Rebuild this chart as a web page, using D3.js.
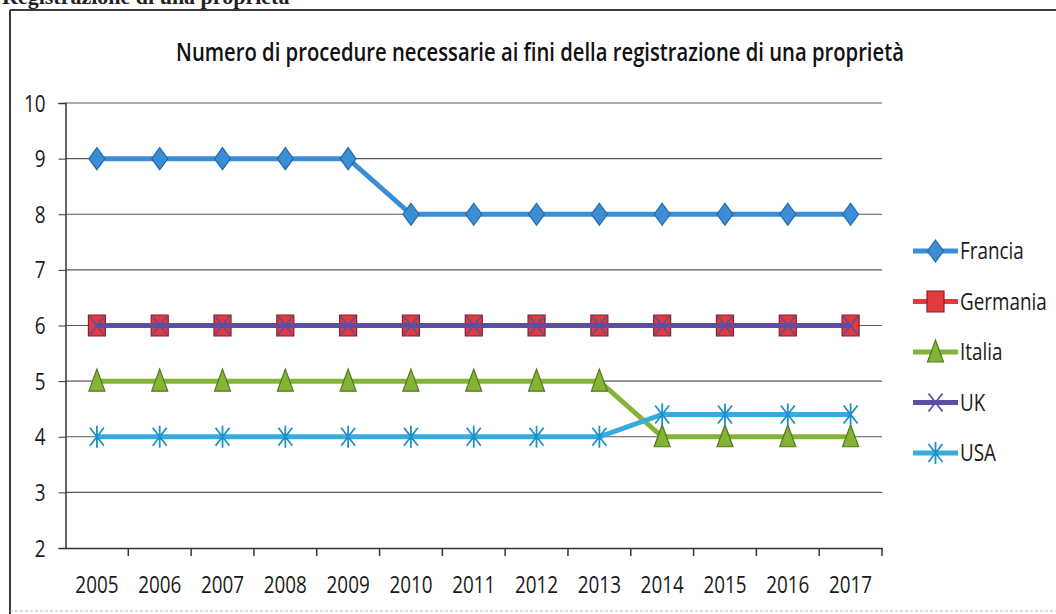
<!DOCTYPE html>
<html>
<head>
<meta charset="utf-8">
<script src="https://cdn.jsdelivr.net/npm/d3@7"></script>
<style>
  body { margin: 0; background: #fff; }
  svg { display: block; }
  .lbl { font-family: "Open Sans", sans-serif; fill: #1a1a1a; font-size: 23px; }
</style>
</head>
<body>
<div id="chart"></div>
<script>
// data
var years = ["2005","2006","2007","2008","2009","2010","2011","2012","2013","2014","2015","2016","2017"];
var francia  = [9, 9, 9, 9, 9, 8, 8, 8, 8, 8, 8, 8, 8];
var germania = [6, 6, 6, 6, 6, 6, 6, 6, 6, 6, 6, 6, 6];
var italia   = [5, 5, 5, 5, 5, 5, 5, 5, 5, 4, 4, 4, 4];
var uk       = [6, 6, 6, 6, 6, 6, 6, 6, 6, 6, 6, 6, 6];
var usa      = [4, 4, 4, 4, 4, 4, 4, 4, 4, 4.4, 4.4, 4.4, 4.4];
var yTicks = [2, 3, 4, 5, 6, 7, 8, 9, 10];
var seriesNames = ["Francia", "Germania", "Italia", "UK", "USA"];
var titleText = "Numero di procedure necessarie ai fini della registrazione di una proprietà";

var series = [
  {name: seriesNames[0], values: francia,  color: "#3b8dd6", edge: "#2568a8", marker: "diamond"},
  {name: seriesNames[1], values: germania, color: "#e23a3f", edge: "#8a1f24", marker: "square"},
  {name: seriesNames[2], values: italia,   color: "#84b335", edge: "#4f7a1c", marker: "triangle"},
  {name: seriesNames[3], values: uk,       color: "#5b4ea3", edge: "#5b4ea3", marker: "cross"},
  {name: seriesNames[4], values: usa,      color: "#36abdf", edge: "#1f6f98", marker: "star"}
];

var W = 1056, H = 614;
var SX = 0.82; // narrow the humanist font a bit, the original looks like Calibri

var svg = d3.select("#chart").append("svg")
    .attr("width", W)
    .attr("height", H);

// clipped heading from the scanned page
svg.append("text")
    .attr("x", 2)
    .attr("y", 4)
    .style("font-family", "'Liberation Serif', serif")
    .style("font-weight", "bold")
    .style("font-size", "22px")
    .style("fill", "#222")
    .text("Registrazione di una proprietà");

// frame
svg.append("line").attr("x1", 10).attr("x2", W).attr("y1", 10).attr("y2", 10)
    .attr("stroke", "#3a3a3a").attr("stroke-width", 2);
svg.append("line").attr("x1", 10).attr("x2", 10).attr("y1", 10).attr("y2", H)
    .attr("stroke", "#3a3a3a").attr("stroke-width", 2);
svg.append("line").attr("x1", 10).attr("x2", W).attr("y1", 611).attr("y2", 611)
    .attr("stroke", "#bbb").attr("stroke-width", 1).attr("stroke-dasharray", "3,2");

// title - squeezed horizontally to the width of the original
var title = svg.append("text")
    .attr("text-anchor", "middle")
    .style("font-family", "'Open Sans', sans-serif")
    .style("font-weight", 600)
    .style("font-size", "25px")
    .style("fill", "#111")
    .text(titleText);
var tw = title.node().getComputedTextLength();
var tScale = Math.min(1, 728 / tw);
title.attr("transform", "translate(540,61) scale(" + tScale + ",1)");

// scales
var x = d3.scaleBand().domain(years).range([65.5, 882]);
var y = d3.scaleLinear().domain([2, 10]).range([548, 103]);

// gridlines
svg.append("g").selectAll("line")
    .data(yTicks.filter(function(d) { return d > 2; }))
    .enter().append("line")
    .attr("x1", 65.5).attr("x2", 882)
    .attr("y1", function(d) { return y(d); })
    .attr("y2", function(d) { return y(d); })
    .attr("stroke", "#5a5a5a")
    .attr("stroke-width", 1.2);

// y axis
var yAxis = d3.axisLeft(y).tickValues(yTicks).tickSize(7).tickFormat(d3.format("d"));
var yG = svg.append("g").attr("transform", "translate(65.5,0)").call(yAxis);
yG.select(".domain").attr("stroke", "#333").attr("stroke-width", 1.5);
yG.selectAll(".tick line").attr("stroke", "#333");
yG.selectAll(".tick text").remove();
yG.selectAll(".tick").append("text")
    .attr("class", "lbl")
    .attr("text-anchor", "end")
    .attr("transform", "translate(-20,8) scale(" + SX + ",1)")
    .text(function(d) { return d; });

// x axis: ticks between categories
var xAxis = d3.axisBottom(x).tickSize(0);
var xG = svg.append("g").attr("transform", "translate(0,548)").call(xAxis);
xG.select(".domain").attr("stroke", "#333").attr("stroke-width", 1.5);
xG.selectAll(".tick text").remove();
xG.selectAll(".tick").append("text")
    .attr("class", "lbl")
    .attr("text-anchor", "middle")
    .attr("transform", "translate(0,45) scale(" + SX + ",1)")
    .text(function(d) { return d; });
svg.append("g").selectAll("line")
    .data(years)
    .enter().append("line")
    .attr("x1", function(d) { return x(d) + x.bandwidth(); })
    .attr("x2", function(d) { return x(d) + x.bandwidth(); })
    .attr("y1", 548).attr("y2", 556)
    .attr("stroke", "#333").attr("stroke-width", 1.5);

// marker shapes
function markerPath(type) {
  if (type === "diamond") return "M0,-11L8,0L0,11L-8,0Z";
  if (type === "square") return "M-8.5,-10.5H8.5V10.5H-8.5Z";
  if (type === "triangle") return "M0,-12L8,10H-8Z";
  if (type === "cross") return "M-7,-9L7,9M-7,9L7,-9";
  return "M-7,-9L7,9M-7,9L7,-9M0,-11V11";
}

function drawMarker(g, s) {
  var p = g.append("path").attr("d", markerPath(s.marker));
  if (s.marker === "cross" || s.marker === "star") {
    p.attr("fill", "none").attr("stroke", s.marker === "cross" ? s.color : "#1f8fc8").attr("stroke-width", 1.8);
  } else {
    p.attr("fill", s.color).attr("stroke", s.edge).attr("stroke-width", 1.2);
  }
}

var line = d3.line()
    .x(function(d, i) { return x(years[i]) + x.bandwidth() / 2; })
    .y(function(d) { return y(d); });

series.forEach(function(s) {
  var g = svg.append("g");
  g.append("path")
      .datum(s.values)
      .attr("d", line)
      .attr("fill", "none")
      .attr("stroke", s.color)
      .attr("stroke-width", 5);
  s.values.forEach(function(v, i) {
    var m = g.append("g")
        .attr("transform", "translate(" + (x(years[i]) + x.bandwidth() / 2) + "," + y(v) + ")");
    drawMarker(m, s);
  });
});

// legend
var legY = d3.scalePoint().domain(seriesNames).range([251, 453]);
series.forEach(function(s) {
  var ly = legY(s.name);
  var lg = svg.append("g");
  lg.append("line")
      .attr("x1", 913).attr("x2", 958)
      .attr("y1", ly).attr("y2", ly)
      .attr("stroke", s.color).attr("stroke-width", 5);
  var m = lg.append("g").attr("transform", "translate(935.5," + ly + ")");
  drawMarker(m, s);
  lg.append("text")
      .attr("class", "lbl")
      .attr("transform", "translate(960," + (ly + 8) + ") scale(" + SX + ",1)")
      .text(s.name);
});
</script>
</body>
</html>
